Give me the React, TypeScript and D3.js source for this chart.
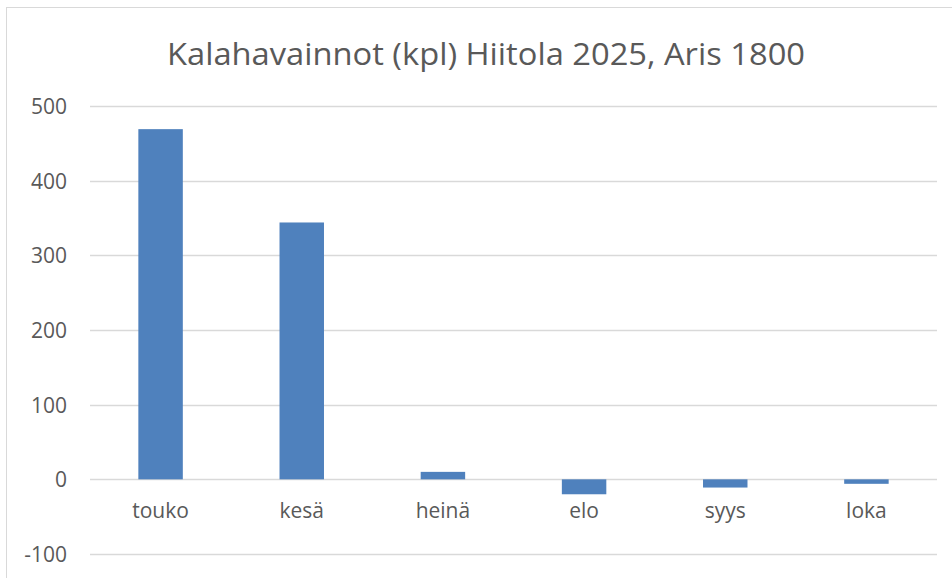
import React, { useEffect, useRef } from 'react';
import * as d3 from 'd3';

const months = ['touko', 'kesä', 'heinä', 'elo', 'syys', 'loka'];
const counts = [469, 344, 10, -20, -11, -6];
const yTicks = [-100, 0, 100, 200, 300, 400, 500];

const App = () => {
	const ref = useRef<SVGSVGElement>(null);

	useEffect(() => {
		const width = 952;
		const height = 578;
		const left = 90;
		const right = 937;
		const svg = d3.select(ref.current);
		svg.selectAll('*').remove();

		// chart frame (cut off at right and bottom)
		svg.append('rect')
			.attr('x', 6.5)
			.attr('y', 7.5)
			.attr('width', 1000)
			.attr('height', 1000)
			.attr('fill', '#fff')
			.attr('stroke', '#d9d9d9');

		const xScale = d3.scaleBand().domain(months).range([left, right]).padding(0);
		const yScale = d3.scaleLinear().domain([-100, 500]).range([554, 106]);

		const grid = svg.append('g');
		grid.selectAll('line')
			.data(yTicks)
			.enter()
			.append('line')
			.attr('x1', left)
			.attr('x2', right)
			.attr('y1', d => Math.round(yScale(d)) + 0.5)
			.attr('y2', d => Math.round(yScale(d)) + 0.5)
			.attr('stroke', '#d9d9d9')
			.attr('stroke-width', 1.3);

		svg.append('g')
			.selectAll('text')
			.data(yTicks)
			.enter()
			.append('text')
			.attr('x', 67)
			.attr('y', d => yScale(d) + 8)
			.attr('text-anchor', 'end')
			.attr('fill', '#595959')
			.style('font-family', '"Open Sans", sans-serif')
			.style('font-size', '21px')
			.text(d => d);

		const barW = xScale.bandwidth() * 0.315;
		svg.append('g')
			.selectAll('rect')
			.data(months)
			.enter()
			.append('rect')
			.attr('x', (m) => (xScale(m) as number) + xScale.bandwidth() / 2 - barW / 2)
			.attr('y', (m, i) => yScale(Math.max(0, counts[i])))
			.attr('width', barW)
			.attr('height', (m, i) => Math.abs(yScale(counts[i]) - yScale(0)))
			.attr('fill', '#4f81bd');

		svg.append('g')
			.selectAll('text')
			.data(months)
			.enter()
			.append('text')
			.attr('x', m => (xScale(m) as number) + xScale.bandwidth() / 2)
			.attr('y', 518)
			.attr('text-anchor', 'middle')
			.attr('fill', '#595959')
			.style('font-family', '"Open Sans", sans-serif')
			.style('font-size', '21px')
			.text(m => m);

		svg.append('text')
			.attr('x', 486)
			.attr('y', 65)
			.attr('text-anchor', 'middle')
			.attr('fill', '#595959')
			.attr('textLength', 638)
			.attr('lengthAdjust', 'spacingAndGlyphs')
			.style('font-family', '"Open Sans", sans-serif')
			.style('font-size', '31px')
			.text('Kalahavainnot (kpl) Hiitola 2025, Aris 1800');

		svg.attr('width', width).attr('height', height);
	}, []);

	return (
		<svg
			ref={ref}
			width={952}
			height={578}
			style={{ position: 'absolute', left: 0, top: 0, display: 'block' }}
		/>
	);
};

export default App;
